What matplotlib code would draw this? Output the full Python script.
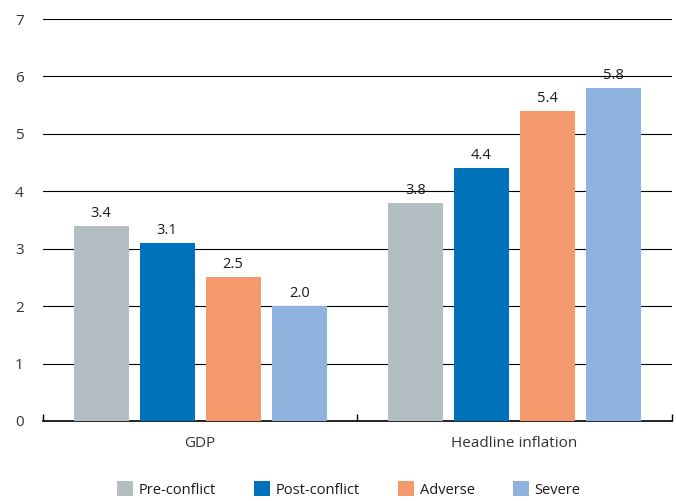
import matplotlib
matplotlib.use("Agg")
import matplotlib.pyplot as plt
import numpy as np

plt.rcParams['font.family'] = ['Open Sans', 'DejaVu Sans']

categories = ["GDP", "Headline inflation"]
series = ["Pre-conflict", "Post-conflict", "Adverse", "Severe"]
values = {
    "Pre-conflict": [3.4, 3.8],
    "Post-conflict": [3.1, 4.4],
    "Adverse": [2.5, 5.4],
    "Severe": [2.0, 5.8],
}
colors = ["#B3BEC3", "#0072BC", "#F4996B", "#8EB3DF"]
yticks = [0, 1, 2, 3, 4, 5, 6, 7]

fig = plt.figure(figsize=(6.76, 5.01), dpi=100)
ax = fig.add_axes([0.0636, 0.1597, 0.930, 0.8023])

x = np.arange(len(categories))
width = 0.175
step = 0.21
for i, s in enumerate(series):
    pos = x + (i - 1.5) * step
    bars = ax.bar(pos, values[s], width=width, color=colors[i], label=s, zorder=3)
    for b, v in zip(bars, values[s]):
        ax.text(b.get_x() + b.get_width() / 2, v + 0.09, f"{v:.1f}",
                ha="center", va="bottom", fontsize=10.5, color="#1a1a1a", zorder=4)

ax.set_xlim(-0.5, 1.5)
ax.set_ylim(0, 7)
ax.set_yticks(yticks)
ax.set_yticklabels([str(t) for t in yticks], fontsize=11, color="#333333")
ax.tick_params(axis='y', length=0, pad=14)
ax.yaxis.grid(True, color="#000000", linewidth=0.8, zorder=0)
ax.set_axisbelow(True)

ax.set_xticks(x)
ax.set_xticklabels(categories, fontsize=11, color="#333333")
ax.tick_params(axis='x', which='major', length=0, pad=11)
ax.set_xticks([-0.5, 0.5, 1.5], minor=True)
ax.tick_params(axis='x', which='minor', direction='in', length=5, width=1, color="#000000")

for sp in ["top", "right", "left"]:
    ax.spines[sp].set_visible(False)
ax.spines["bottom"].set_color("#000000")
ax.spines["bottom"].set_linewidth(1.2)

leg = fig.legend(loc="lower center", bbox_to_anchor=(0.516, -0.02), ncol=4, frameon=False,
                 fontsize=10.5, handlelength=1.1, handleheight=1.2, columnspacing=2.6,
                 handletextpad=0.4)
for t in leg.get_texts():
    t.set_color("#1a1a1a")

fig.savefig("out.png", dpi=100)
